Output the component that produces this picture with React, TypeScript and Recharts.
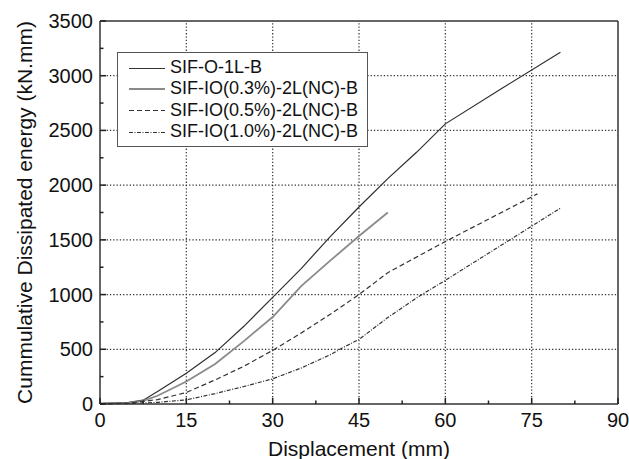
import React from 'react';
import { LineChart, Line, XAxis, YAxis, Legend, ReferenceLine, Label } from 'recharts';

const seriesNames = ['SIF-O-1L-B', 'SIF-IO(0.3%)-2L(NC)-B', 'SIF-IO(0.5%)-2L(NC)-B', 'SIF-IO(1.0%)-2L(NC)-B'];

const disp1 = [0, 5, 7.5, 10, 15, 20, 25, 30, 35, 40, 45, 50, 55, 60, 70, 80];
const energy1 = [5, 15, 35, 115, 282, 470, 710, 975, 1240, 1530, 1800, 2060, 2300, 2560, 2890, 3215];

const disp2 = [0, 5, 7.5, 10, 15, 20, 25, 30, 35, 40, 45, 50];
const energy2 = [3, 10, 28, 75, 205, 365, 575, 795, 1080, 1310, 1535, 1750];

const disp3 = [0, 5, 10, 15, 20, 25, 30, 35, 40, 45, 50, 60, 76];
const energy3 = [0, 8, 40, 105, 220, 345, 490, 650, 820, 1000, 1200, 1485, 1920];

const disp4 = [0, 5, 10, 15, 20, 25, 30, 35, 40, 42, 45, 50, 55, 60, 70, 80];
const energy4 = [0, 4, 15, 38, 95, 160, 230, 330, 450, 510, 590, 790, 970, 1130, 1460, 1790];

const xTicks = [0, 7.5, 15, 22.5, 30, 37.5, 45, 52.5, 60, 67.5, 75, 82.5, 90];
const xMajor = [0, 15, 30, 45, 60, 75, 90];
const yTicks = [0, 250, 500, 750, 1000, 1250, 1500, 1750, 2000, 2250, 2500, 2750, 3000, 3250, 3500];
const yMajor = [0, 500, 1000, 1500, 2000, 2500, 3000, 3500];
const xGrid = [15, 30, 45, 60, 75];
const yGrid = [500, 1000, 1500, 2000, 2500, 3000];

const toData = (xs: number[], ys: number[]) => xs.map((x, i) => ({ x, y: ys[i] }));
const data1 = toData(disp1, energy1);
const data2 = toData(disp2, energy2);
const data3 = toData(disp3, energy3);
const data4 = toData(disp4, energy4);

const FONT = '"Liberation Sans", Arial, Helvetica, sans-serif';
const INK = '#333';

const styles = [
  { stroke: '#2e2e2e', width: 1.2, dash: undefined as string | undefined },
  { stroke: '#8a8a8a', width: 1.8, dash: undefined as string | undefined },
  { stroke: '#333', width: 1.2, dash: '5 3' },
  { stroke: '#333', width: 1.2, dash: '4 1.5 1 1.5' },
];

const XTick = (props: any) => {
  const { x, y, payload } = props;
  const major = xMajor.includes(payload.value);
  return (
    <g>
      <path d={`M${x},${y}V${y - (major ? 6 : 3.5)}`} stroke="#222" strokeWidth={1.5} fill="none" />
      {major && (
        <text x={x} y={y + 23} textAnchor="middle" fontSize={20} fontFamily={FONT} fill="#111">
          {payload.value}
        </text>
      )}
    </g>
  );
};

const YTick = (props: any) => {
  const { x, y, payload } = props;
  const major = yMajor.includes(payload.value);
  return (
    <g>
      <path d={`M${x},${y}H${x + (major ? 6 : 3.5)}`} stroke="#222" strokeWidth={1.5} fill="none" />
      {major && (
        <text x={x - 7} y={y + 7} textAnchor="end" fontSize={20} fontFamily={FONT} fill="#111">
          {payload.value}
        </text>
      )}
    </g>
  );
};

const YLabel = (props: any) => {
  const vb = props.viewBox || { x: 0, y: 21, width: 100, height: 383 };
  const cx = vb.x + 32;
  const cy = vb.y + vb.height / 2;
  return (
    <text x={cx} y={cy} transform={`rotate(-90 ${cx} ${cy})`} textAnchor="middle" fontSize={21} fontFamily={FONT} fill="#111">
      Cummulative Dissipated energy (kN.mm)
    </text>
  );
};

const XLabel = (props: any) => {
  const vb = props.viewBox || { x: 100, y: 404, width: 518, height: 55 };
  const cx = vb.x + vb.width / 2;
  return (
    <text x={cx} y={vb.y + 52} textAnchor="middle" fontSize={21} fontFamily={FONT} fill="#111">
      Displacement (mm)
    </text>
  );
};

const LegendBox = () => (
  <div
    style={{
      border: '1px solid #555',
      background: '#fff',
      width: 251,
      height: 95,
      boxSizing: 'border-box',
      padding: '4px 0 0 11px',
      fontFamily: FONT,
      fontSize: 18,
      color: '#111',
    }}
  >
    {seriesNames.map((name, i) => (
      <div key={name} style={{ display: 'flex', alignItems: 'center', height: 21.3, lineHeight: '21.3px', whiteSpace: 'nowrap' }}>
        <svg width={41} height={10} style={{ display: 'block' }}>
          <line
            x1={0}
            x2={36}
            y1={i === 1 ? 5 : 5.5}
            y2={i === 1 ? 5 : 5.5}
            stroke={i === 0 ? '#333' : styles[i].stroke}
            strokeWidth={i === 1 ? 2 : 1}
            strokeDasharray={styles[i].dash}
          />
        </svg>
        <span>{name}</span>
      </div>
    ))}
  </div>
);

export default function App() {
  return (
    <div style={{ position: 'absolute', left: 0, top: 0 }}>
      <LineChart width={629} height={459} margin={{ top: 21, right: 11, bottom: 0, left: 0 }}>
        <XAxis
          type="number"
          dataKey="x"
          domain={[0, 90]}
          ticks={xTicks}
          interval={0}
          tickSize={0}
          tickMargin={0}
          tick={<XTick />}
          tickLine={false}
          height={55}
          axisLine={{ stroke: INK, strokeWidth: 1.5 }}
          allowDuplicatedCategory={false}
          label={<Label content={<XLabel />} />}
        />
        <YAxis
          type="number"
          domain={[0, 3500]}
          ticks={yTicks}
          interval={0}
          tickSize={0}
          tickMargin={0}
          tick={<YTick />}
          tickLine={false}
          width={100}
          axisLine={{ stroke: INK, strokeWidth: 1.5 }}
          label={<Label content={<YLabel />} />}
        />
        {xGrid.map((v) => (
          <ReferenceLine key={'gx' + v} x={v} stroke="#333" strokeDasharray="1.3 2" strokeWidth={1.2} />
        ))}
        {yGrid.map((v) => (
          <ReferenceLine key={'gy' + v} y={v} stroke="#333" strokeDasharray="1.3 2" strokeWidth={1.2} />
        ))}
        <ReferenceLine x={90} stroke={INK} strokeWidth={1.5} />
        <ReferenceLine y={3500} stroke={INK} strokeWidth={1.5} />
        <Legend
          layout="vertical"
          align="center"
          verticalAlign="middle"
          content={<LegendBox />}
          wrapperStyle={{ position: 'absolute', left: 117, top: 52, width: 251, height: 95 }}
        />
        {[data1, data2, data3, data4].map((d, i) => (
          <Line
            key={seriesNames[i]}
            name={seriesNames[i]}
            data={d}
            dataKey="y"
            type="linear"
            stroke={styles[i].stroke}
            strokeWidth={styles[i].width}
            strokeDasharray={styles[i].dash}
            dot={false}
            activeDot={false}
            isAnimationActive={false}
          />
        ))}
      </LineChart>
    </div>
  );
}
